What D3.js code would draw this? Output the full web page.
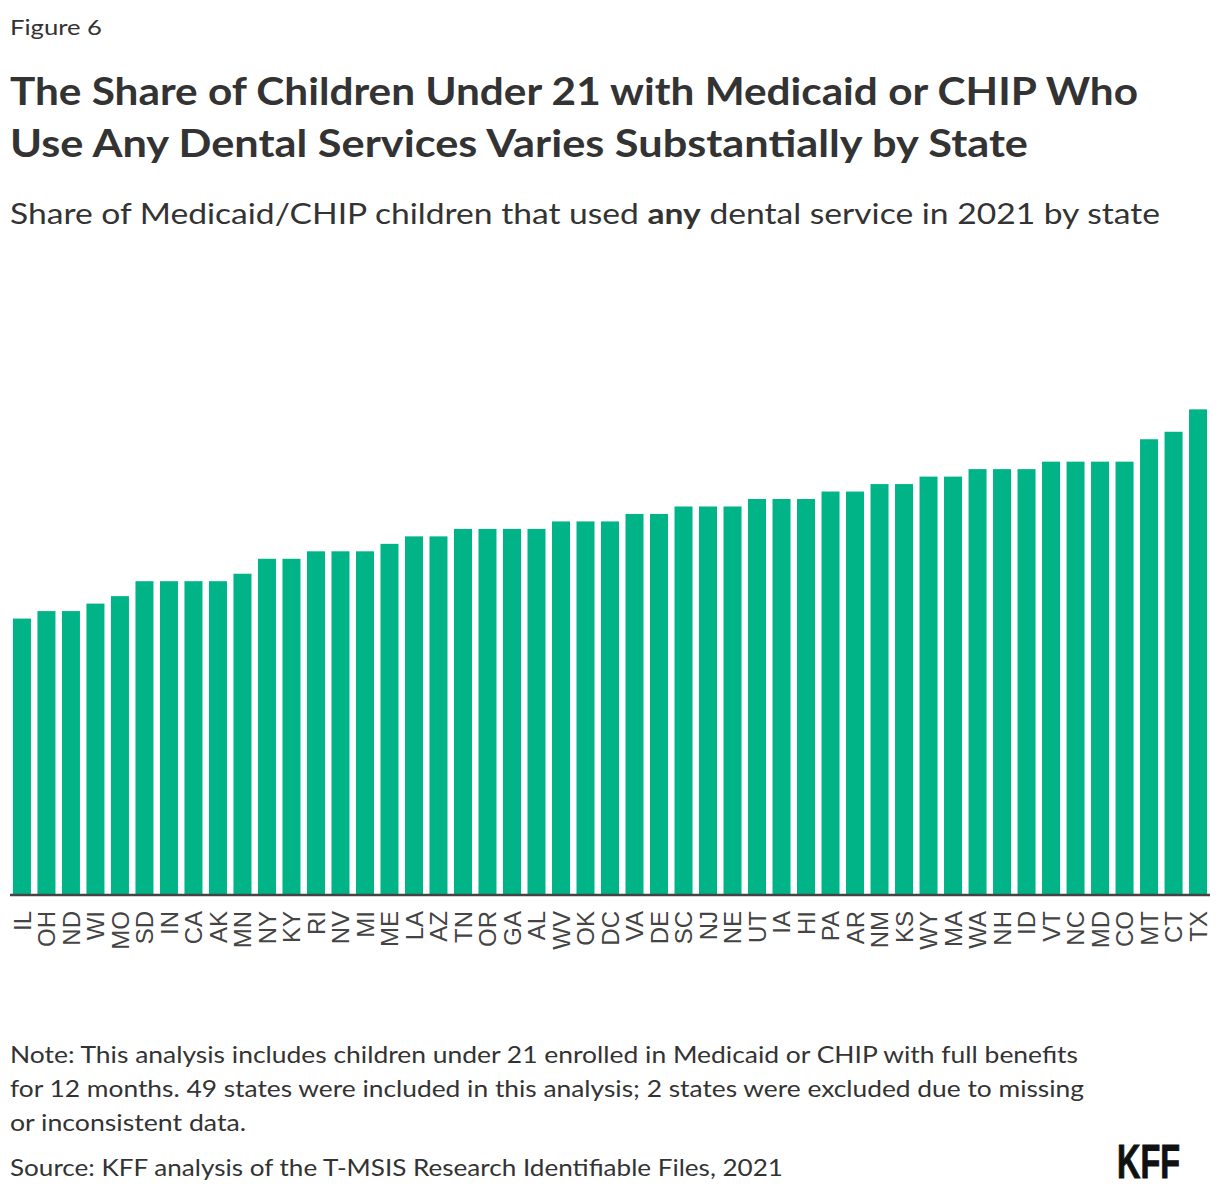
<!DOCTYPE html>
<html>
<head>
<meta charset="utf-8">
<script src="https://cdn.jsdelivr.net/npm/d3@7"></script>
<style>
  html, body { margin: 0; padding: 0; background: #fff; }
  svg { display: block; }
</style>
</head>
<body>
<svg id="chart" width="1220" height="1194"></svg>
<script>
const states = ["IL","OH","ND","WI","MO","SD","IN","CA","AK","MN","NY","KY","RI","NV","MI","ME","LA","AZ","TN","OR","GA","AL","WV","OK","DC","VA","DE","SC","NJ","NE","UT","IA","HI","PA","AR","NM","KS","WY","MA","WA","NH","ID","VT","NC","MD","CO","MT","CT","TX"];
const anyDentalShare = [37,38,38,39,40,42,42,42,42,43,45,45,46,46,46,47,48,48,49,49,49,49,50,50,50,51,51,52,52,52,53,53,53,54,54,55,55,56,56,57,57,57,58,58,58,58,61,62,65];

const figureLabel = "Figure 6";
const titleLines = ["The Share of Children Under 21 with Medicaid or CHIP Who","Use Any Dental Services Varies Substantially by State"];
const subtitleParts = [["Share of Medicaid/CHIP children that used ", false],["any", true],[" dental service in 2021 by state", false]];
const noteLines = ["Note: This analysis includes children under 21 enrolled in Medicaid or CHIP with full benefits","for 12 months. 49 states were included in this analysis; 2 states were excluded due to missing","or inconsistent data."];
const sourceLine = "Source: KFF analysis of the T-MSIS Research Identifiable Files, 2021";

const svg = d3.select("#chart");
const textFont = "Lato, 'Source Sans Pro', 'Noto Sans', sans-serif";

function fit(sel, w) {
  sel.attr("textLength", w).attr("lengthAdjust", "spacingAndGlyphs");
}

svg.append("text").attr("x", 10).attr("y", 35).attr("font-family", textFont)
  .attr("font-size", 22).attr("fill", "#333").text(figureLabel).call(fit, 92);

const titleW = [1128, 1018];
titleLines.forEach((t, i) => {
  svg.append("text").attr("x", 10).attr("y", 105 + i * 52).attr("font-family", textFont)
    .attr("font-size", 38).attr("font-weight", 700).attr("fill", "#333").text(t).call(fit, titleW[i]);
});

const sub = svg.append("text").attr("x", 10).attr("y", 224).attr("font-family", textFont)
  .attr("font-size", 29).attr("fill", "#333");
subtitleParts.forEach(([t, b]) => {
  sub.append("tspan").attr("font-weight", b ? 700 : 400).text(t);
});
sub.call(fit, 1150);

// chart
const x = d3.scaleBand().domain(states).range([10, 1210]).paddingInner(0.265).paddingOuter(0.12);
const y = d3.scaleLinear().domain([0, 70]).range([895, 372]);

svg.append("g").selectAll("rect").data(states).join("rect")
  .attr("x", d => x(d))
  .attr("width", x.bandwidth())
  .attr("y", (d, i) => y(anyDentalShare[i]))
  .attr("height", (d, i) => y(0) - y(anyDentalShare[i]))
  .attr("fill", "#00b488");

const xAxis = svg.append("g").attr("transform", "translate(0,895)")
  .call(d3.axisBottom(x).tickSize(0).tickPadding(0));
xAxis.select(".domain").attr("stroke", "#444").attr("stroke-width", 2.5).attr("d", "M10,0H1210");
xAxis.selectAll(".tick text")
  .attr("font-family", "'Liberation Sans', Arial, sans-serif")
  .attr("font-size", 24)
  .attr("fill", "#444")
  .attr("transform", "rotate(-90)")
  .attr("text-anchor", "end")
  .attr("x", -16)
  .attr("y", 0)
  .attr("dy", "0.36em");

// notes
noteLines.forEach((t, i) => {
  const el = svg.append("text").attr("x", 10).attr("y", 1063 + i * 34).attr("font-family", textFont)
    .attr("font-size", 23).attr("fill", "#333").text(t);
  el.call(fit, [1068, 1074, 236][i]);
});
svg.append("text").attr("x", 10).attr("y", 1176).attr("font-family", textFont)
  .attr("font-size", 23).attr("fill", "#333").text(sourceLine).call(fit, 773);

svg.append("text").attr("x", 1117).attr("y", 1178).attr("font-family", "'Liberation Sans Narrow', 'Liberation Sans', Arial, sans-serif")
  .attr("font-size", 48).attr("font-weight", 700).attr("fill", "#111").attr("stroke", "#111").attr("stroke-width", 1)
  .text("KFF").call(fit, 63);
</script>
</body>
</html>
